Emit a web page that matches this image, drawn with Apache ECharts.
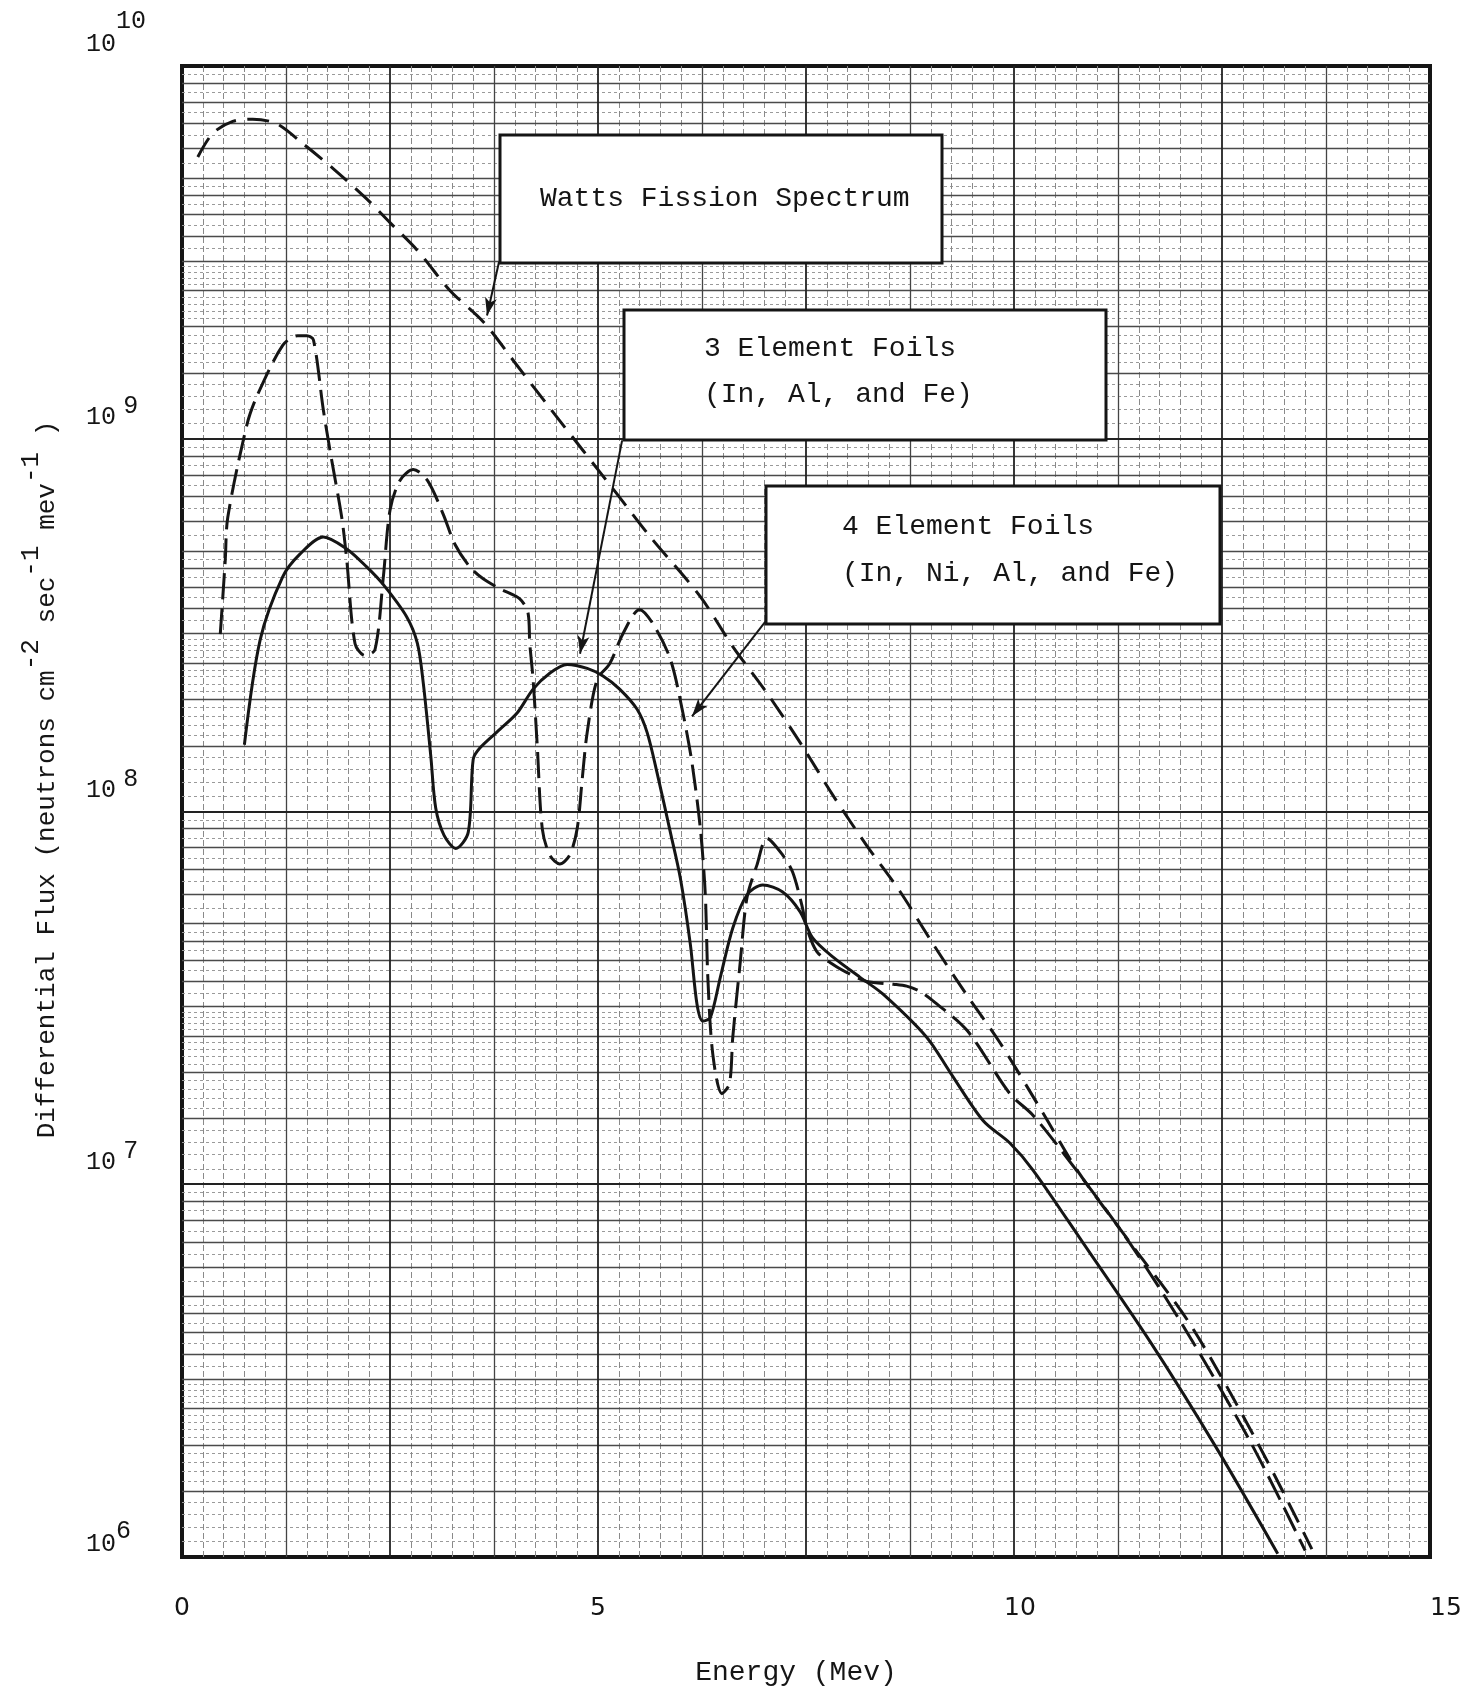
<!DOCTYPE html>
<html>
<head>
<meta charset="utf-8">
<script src="https://cdn.jsdelivr.net/npm/echarts@6/dist/echarts.min.js"></script>
<style>
  html, body { margin: 0; padding: 0; background: #fff; }
  #chart { width: 1483px; height: 1692px; }
</style>
</head>
<body>
<div id="chart"></div>
<script>
// Neutron energy (MeV) and differential flux (neutrons cm^-2 sec^-1 MeV^-1)
const wattsEnergy = [0.19, 0.37, 0.61, 0.85, 1.14, 1.45, 1.82, 2.22, 2.5, 2.83, 3.22, 3.62, 4.03, 4.42, 4.82, 5.23, 5.63, 6.23, 6.62, 7.03, 7.43, 7.83, 8.23, 8.63, 9.03, 9.44, 9.83, 10.35, 10.76, 11.39, 12.12, 12.92, 13.58];
const wattsFlux = [5.7e9, 6.6e9, 7.1e9, 7.2e9, 7.0e9, 6.2e9, 5.3e9, 4.4e9, 3.8e9, 3.2e9, 2.5e9, 2.06e9, 1.57e9, 1.21e9, 9.3e8, 7.1e8, 5.45e8, 3.77e8, 2.77e8, 2.08e8, 1.53e8, 1.1e8, 8.1e7, 6.1e7, 4.4e7, 3.2e7, 2.4e7, 1.55e7, 1.09e7, 7.0e6, 4.2e6, 2.04e6, 1.05e6];

// 4 element foils (In, Ni, Al, and Fe)
const fourFoilEnergy = [0.46, 0.52, 0.55, 0.78, 0.90, 1.21, 1.39, 1.50, 1.58, 1.70, 1.80, 1.92, 1.98, 2.08, 2.20, 2.32, 2.42, 2.50, 2.62, 2.78, 2.95, 3.14, 3.28, 3.46, 3.62, 3.82, 4.06, 4.16, 4.18, 4.22, 4.27, 4.33, 4.42, 4.54, 4.66, 4.75, 4.81, 4.87, 4.99, 5.14, 5.30, 5.50, 5.66, 5.87, 6.02, 6.13, 6.23, 6.29, 6.32, 6.38, 6.49, 6.58, 6.62, 6.71, 6.79, 6.91, 7.03, 7.22, 7.34, 7.45, 7.51, 7.63, 7.83, 8.03, 8.23, 8.55, 8.71, 8.87, 9.03, 9.44, 9.95, 10.23, 10.71, 11.39, 12.03, 12.84, 13.50];
const fourFoilFlux = [2.99e8, 4.73e8, 6.15e8, 1.09e9, 1.30e9, 1.78e9, 1.89e9, 1.89e9, 1.84e9, 1.19e9, 8.74e8, 6.15e8, 4.73e8, 2.82e8, 2.62e8, 2.72e8, 4.26e8, 6.43e8, 7.73e8, 8.27e8, 7.73e8, 6.27e8, 5.21e8, 4.53e8, 4.21e8, 3.96e8, 3.72e8, 3.40e8, 2.82e8, 2.26e8, 1.50e8, 9.0e7, 7.64e7, 7.23e7, 7.64e7, 9.0e7, 1.22e8, 1.63e8, 2.26e8, 2.49e8, 3.0e8, 3.48e8, 3.19e8, 2.56e8, 1.84e8, 1.35e8, 9.0e7, 5.97e7, 3.59e7, 2.23e7, 1.75e7, 1.86e7, 2.48e7, 3.95e7, 5.86e7, 7.18e7, 8.47e7, 7.64e7, 6.87e7, 5.61e7, 4.87e7, 4.21e7, 3.88e7, 3.66e7, 3.50e7, 3.44e7, 3.40e7, 3.29e7, 3.10e7, 2.58e7, 1.75e7, 1.53e7, 1.12e7, 6.96e6, 4.18e6, 2.04e6, 1.04e6];

// 3 element foils (In, Al, and Fe)
const threeFoilEnergy = [0.75, 0.94, 1.21, 1.42, 1.70, 1.98, 2.22, 2.42, 2.70, 2.83, 2.90, 2.99, 3.05, 3.15, 3.29, 3.44, 3.50, 3.58, 3.82, 4.03, 4.22, 4.42, 4.63, 4.87, 5.06, 5.26, 5.47, 5.59, 5.71, 5.87, 5.99, 6.11, 6.19, 6.26, 6.35, 6.47, 6.62, 6.79, 6.98, 7.22, 7.43, 7.58, 7.83, 8.15, 8.43, 8.95, 9.23, 9.63, 9.95, 10.23, 10.83, 11.64, 12.44, 13.17];
const threeFoilFlux = [1.51e8, 2.89e8, 4.26e8, 4.91e8, 5.45e8, 5.06e8, 4.53e8, 4.06e8, 3.33e8, 2.82e8, 2.21e8, 1.41e8, 1.02e8, 8.63e7, 7.96e7, 8.79e7, 1.38e8, 1.48e8, 1.66e8, 1.84e8, 2.13e8, 2.35e8, 2.48e8, 2.42e8, 2.31e8, 2.13e8, 1.88e8, 1.63e8, 1.27e8, 8.79e7, 6.62e7, 4.40e7, 3.04e7, 2.74e7, 2.80e7, 3.59e7, 4.87e7, 5.97e7, 6.35e7, 6.08e7, 5.38e7, 4.58e7, 4.06e7, 3.59e7, 3.23e7, 2.48e7, 2.0e7, 1.48e7, 1.29e7, 1.09e7, 6.96e6, 3.77e6, 1.95e6, 1.02e6];

// Tick labels
const xTickLabels = ['0', '5', '10', '15'];
const yTickExponents = ['6', '7', '8', '9', '10'];

// Callout arrows: [start (energy, flux), tip (energy, flux)]
const wattsArrow = [[3.81, 2.98e9], [3.666, 2.14e9]];
const threeFoilArrow = [[5.29, 9.9e8], [4.784, 2.65e8]];
const fourFoilArrow = [[7.03, 3.27e8], [6.13, 1.80e8]];

// ---- semi-log paper rulings ----
const vMinor = [], vMid = [], vMajor = [];
for (let i = 1; i < 60; i++) {
  const e = i * 0.25;
  if (i % 10 === 0) vMajor.push(e);
  else if (i % 5 === 0) vMid.push(e);
  else vMinor.push(e);
}
const decadeExps = [6, 7, 8, 9];
const midMant = [1.5, 2, 2.5, 3, 3.5, 4, 4.5, 5, 6, 7, 8, 9];
const fineMant = [1.1, 1.2, 1.3, 1.4, 1.6, 1.7, 1.8, 1.9, 2.1, 2.2, 2.3, 2.4, 2.6, 2.7, 2.8, 2.9, 3.25, 3.75, 4.25, 4.75, 5.5, 6.5, 7.5, 8.5, 9.5];
const hMajor = [1e7, 1e8, 1e9];
const hMid = [], hFine = [];
decadeExps.forEach(d => {
  midMant.forEach(m => hMid.push(m * Math.pow(10, d)));
  fineMant.forEach(m => hFine.push(m * Math.pow(10, d)));
});

const MONO = '"Liberation Mono", "DejaVu Sans Mono", monospace';
const INK = '#151515';

function ruling(name, values, axisKey, style) {
  return {
    type: 'line', name: name, data: [], silent: true, z: 1,
    markLine: {
      silent: true, symbol: ['none', 'none'], animation: false,
      label: { show: false },
      emphasis: { disabled: true },
      lineStyle: style,
      data: values.map(v => ({ [axisKey]: v }))
    }
  };
}

function arrow(name, pts) {
  return {
    type: 'line', name: name, data: [], silent: true, z: 6,
    markLine: {
      silent: true, animation: false,
      symbol: ['none', 'arrow'], symbolSize: [9, 18],
      label: { show: false },
      emphasis: { disabled: true },
      lineStyle: { color: INK, width: 2, type: 'solid' },
      data: [[{ coord: pts[0] }, { coord: pts[1] }]]
    }
  };
}

function curve(name, xs, ys, lineType) {
  return {
    type: 'line', name: name, z: 5,
    data: xs.map((x, i) => [x, ys[i]]),
    showSymbol: false, symbol: 'none',
    smooth: 0.3,
    silent: true,
    lineStyle: { color: INK, width: 3, type: lineType, cap: 'butt', join: 'round' }
  };
}

const chart = echarts.init(document.getElementById('chart'), null, { renderer: 'canvas' });

chart.setOption({
  animation: false,
  backgroundColor: '#ffffff',
  grid: {
    left: 182, top: 66, width: 1248, height: 1501,
    show: true, borderColor: INK, borderWidth: 4, backgroundColor: '#ffffff'
  },
  xAxis: {
    type: 'value', min: 0, max: 15, interval: 5,
    axisLine: { show: false }, axisTick: { show: false }, splitLine: { show: false },
    name: 'Energy (Mev)', nameLocation: 'middle', nameGap: 102,
    nameTextStyle: { fontFamily: MONO, fontSize: 28, color: INK, padding: [0, 20, 0, 0] },
    axisLabel: {
      margin: 39,
      formatter: v => {
        const t = xTickLabels[Math.round(v / 5)];
        if (v === 15) return '{s15|' + t + '}';
        if (v === 10) return '{s10|' + t + '}';
        return '{t|' + t + '}';
      },
      rich: {
        t: { fontFamily: '"DejaVu Sans", sans-serif', fontSize: 25, color: INK },
        s10: { fontFamily: '"DejaVu Sans", sans-serif', fontSize: 25, color: INK, padding: [0, 0, 0, 12] },
        s15: { fontFamily: '"DejaVu Sans", sans-serif', fontSize: 25, color: INK, padding: [0, 0, 0, 32] }
      }
    }
  },
  yAxis: {
    type: 'log', logBase: 10, min: 1e6, max: 1e10,
    axisLine: { show: false }, axisTick: { show: false }, splitLine: { show: false },
    name: '{n|Differential Flux (neutrons cm}{s|-2}{n| sec}{s|-1}{n| mev}{s|-1}{n| )}',
    nameLocation: 'middle', nameGap: 122,
    nameTextStyle: {
      padding: [0, 0, 0, 64],
      rich: {
        n: { fontFamily: MONO, fontSize: 26, color: INK, verticalAlign: 'bottom' },
        s: { fontFamily: MONO, fontSize: 26, color: INK, verticalAlign: 'bottom', padding: [0, 0, 16, 0] }
      }
    },
    axisLabel: {
      showMinLabel: true, showMaxLabel: true,
      align: 'left', verticalAlign: 'bottom', margin: 96,
      formatter: v => {
        const idx = Math.round(Math.log10(v)) - 6;
        const e = yTickExponents[idx];
        if (e === '10') return '{b|10}{e10|' + e + '}';
        if (e === '6') return '{b6|10}{e6|' + e + '}';
        return '{b|10}{gap| }{e|' + e + '}';
      },
      rich: {
        b: { fontFamily: MONO, fontSize: 25, color: INK, verticalAlign: 'bottom', padding: [0, 0, 9, 0] },
        b6: { fontFamily: MONO, fontSize: 25, color: INK, verticalAlign: 'bottom' },
        gap: { fontFamily: MONO, fontSize: 12, verticalAlign: 'bottom', padding: [0, 0, 9, 0] },
        e: { fontFamily: MONO, fontSize: 25, color: INK, verticalAlign: 'bottom', padding: [0, 0, 20, 0] },
        e10: { fontFamily: MONO, fontSize: 25, color: INK, verticalAlign: 'bottom', padding: [0, 0, 32, 0] },
        e6: { fontFamily: MONO, fontSize: 25, color: INK, verticalAlign: 'bottom', padding: [0, 0, 13, 0] }
      }
    }
  },
  series: [
    ruling('h-fine', hFine, 'yAxis', { color: '#9a9a9a', width: 1, type: [3, 3] }),
    ruling('v-minor', vMinor, 'xAxis', { color: '#8a8a8a', width: 1, type: [6, 3] }),
    ruling('h-mid', hMid, 'yAxis', { color: '#4a4a4a', width: 1.3, type: 'solid' }),
    ruling('v-mid', vMid, 'xAxis', { color: '#444', width: 1.3, type: 'solid' }),
    ruling('h-major', hMajor, 'yAxis', { color: '#222', width: 2, type: 'solid' }),
    ruling('v-major', vMajor, 'xAxis', { color: '#222', width: 1.8, type: 'solid' }),
    curve('Watts Fission Spectrum', wattsEnergy, wattsFlux, [22, 11]),
    curve('4 Element Foils (In, Ni, Al, and Fe)', fourFoilEnergy, fourFoilFlux, [26, 9]),
    curve('3 Element Foils (In, Al, and Fe)', threeFoilEnergy, threeFoilFlux, 'solid'),
    arrow('watts-callout', wattsArrow),
    arrow('three-callout', threeFoilArrow),
    arrow('four-callout', fourFoilArrow)
  ],
  graphic: [
    { type: 'rect', z: 100, shape: { x: 500, y: 135, width: 442, height: 128 },
      style: { fill: '#fff', stroke: INK, lineWidth: 3 } },
    { type: 'text', z: 101, style: { x: 540, y: 199, text: 'Watts Fission Spectrum',
      font: '28px ' + MONO, fill: INK, verticalAlign: 'middle' } },

    { type: 'rect', z: 100, shape: { x: 624, y: 310, width: 482, height: 130 },
      style: { fill: '#fff', stroke: INK, lineWidth: 3 } },
    { type: 'text', z: 101, style: { x: 704, y: 349, text: '3 Element Foils',
      font: '28px ' + MONO, fill: INK, verticalAlign: 'middle' } },
    { type: 'text', z: 101, style: { x: 704, y: 395, text: '(In, Al, and Fe)',
      font: '28px ' + MONO, fill: INK, verticalAlign: 'middle' } },

    { type: 'rect', z: 100, shape: { x: 766, y: 486, width: 454, height: 138 },
      style: { fill: '#fff', stroke: INK, lineWidth: 3 } },
    { type: 'text', z: 101, style: { x: 842, y: 527, text: '4 Element Foils',
      font: '28px ' + MONO, fill: INK, verticalAlign: 'middle' } },
    { type: 'text', z: 101, style: { x: 842, y: 574, text: '(In, Ni, Al, and Fe)',
      font: '28px ' + MONO, fill: INK, verticalAlign: 'middle' } }
  ]
});
</script>
</body>
</html>
